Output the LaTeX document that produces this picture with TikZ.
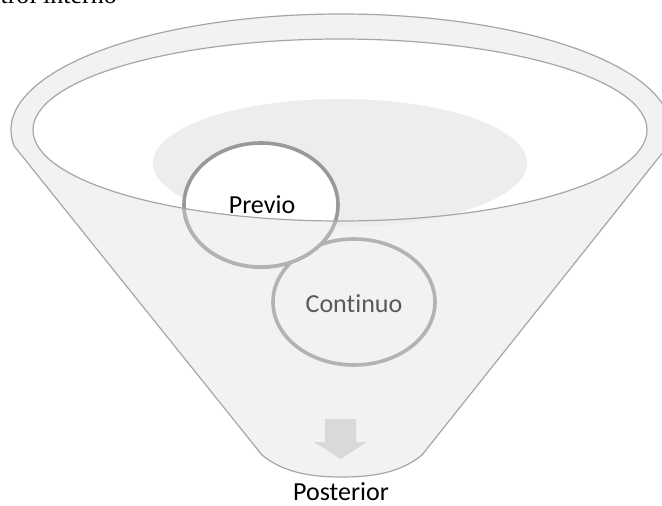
\documentclass[tikz,border=0pt]{standalone}
\usepackage{fontspec}
\setmainfont[Ligatures=NoCommon]{Carlito}
\newfontfamily\serifb{Liberation Serif}
\usetikzlibrary{shapes.geometric}
\definecolor{funfill}{HTML}{F2F2F2}
\definecolor{funline}{HTML}{A6A6A6}
\definecolor{shadeC}{HTML}{EDEDED}
\definecolor{ringdark}{HTML}{999999}
\definecolor{ringlight}{HTML}{B3B3B3}
\definecolor{arrowC}{HTML}{D9D9D9}
\definecolor{txtgray}{HTML}{595959}
\tikzset{
  funnel/.style={fill=funfill, draw=funline, line width=1.2pt},
  ring/.style={line width=3.6pt},
  lbl/.style={font=\fontsize{26}{30}\selectfont, inner sep=0pt},
}
\begin{document}
\begin{tikzpicture}[x=1pt,y=1pt]
\useasboundingbox (0,-506) rectangle (662,0);
\clip (0,-506) rectangle (662,0);
\fill[white] (0,-506) rectangle (662,0);
% funnel body
\draw[funnel] (341,-130) ++(188:330 and 116)
  arc[start angle=188, end angle=-8, x radius=330, y radius=116]
  -- (422,-455) .. controls (399,-474) and (369,-477) .. (342,-477)
  .. controls (315,-477) and (285,-474) .. (262,-455) -- cycle;
% inner opening
\fill[white] (340,-130) ellipse[x radius=307, y radius=91];
% shade
\fill[shadeC] (340,-163) ellipse[x radius=187, y radius=64];
% Continuo ring
\draw[ring, draw=ringlight, fill=funfill] (354,-302) ellipse[x radius=81, y radius=63];
% Previo ring
\draw[ring, draw=ringdark, fill=white] (261,-205) ellipse[x radius=77, y radius=62];
\begin{scope}
  \clip (33,-130) arc[start angle=180, end angle=360, x radius=307, y radius=91]
    -- (647,-506) -- (33,-506) -- cycle;
  \draw[ring, draw=ringlight, fill=funfill] (261,-205) ellipse[x radius=77, y radius=62];
\end{scope}
% inner rim line
\draw[draw=funline, line width=1.2pt] (340,-130) ellipse[x radius=307, y radius=91];
% arrow
\fill[arrowC] (325,-419) -- (356,-419) -- (356,-442) -- (367,-442) -- (340.5,-459)
  -- (314,-442) -- (325,-442) -- cycle;
% texts
\node[lbl, anchor=base] (previo) at (262,-213) {Previo};
\node[lbl, anchor=base, text=txtgray] (continuo) at (354,-312) {Continuo};
\node[lbl, anchor=base] (posterior) at (341,-500) {Posterior};
\node[inner sep=0pt, anchor=base east, font=\serifb\fontsize{26}{30}\selectfont] (toptext) at (117,-4) {control interno};
\end{tikzpicture}
\end{document}
